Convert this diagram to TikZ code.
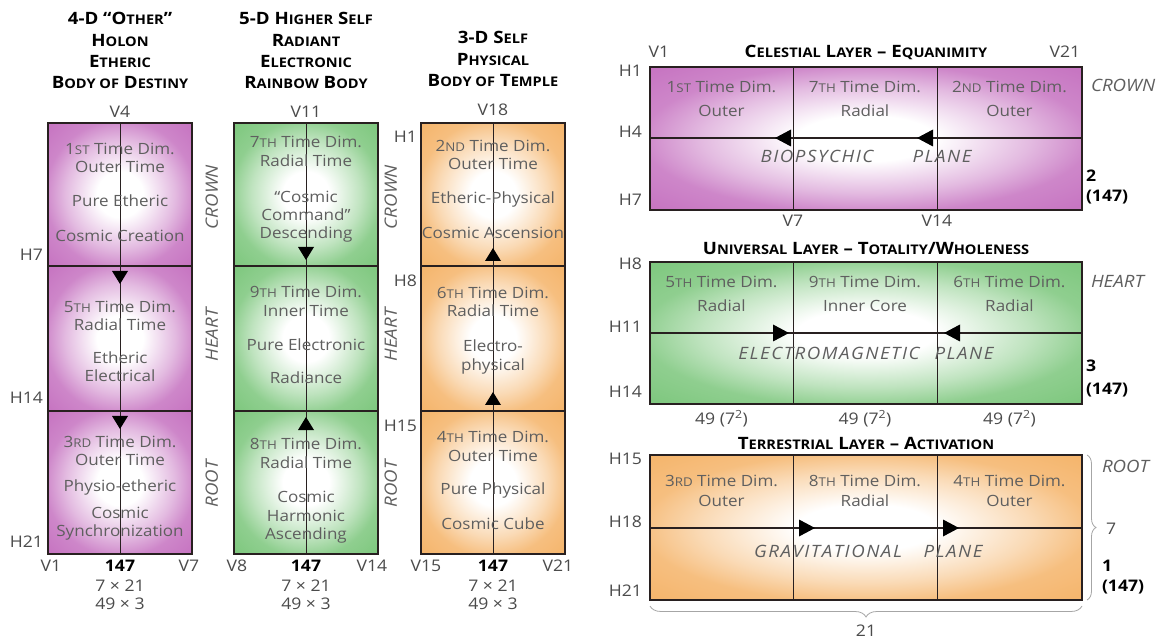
\documentclass[tikz,border=0pt]{standalone}
\usepackage{fontspec}
\setmainfont{Open Sans}[FakeStretch=1.1]
\usetikzlibrary{decorations.pathreplacing}
\definecolor{purp}{RGB}{199,118,194}
\definecolor{grn}{RGB}{128,200,128}
\definecolor{org}{RGB}{245,182,110}
\definecolor{txtc}{RGB}{95,95,95}
\definecolor{lblc}{RGB}{75,75,75}
\definecolor{edgec}{RGB}{40,32,32}
\pgfdeclareradialshading{purpsh}{\pgfpoint{0bp}{0bp}}{color(0bp)=(white);color(8bp)=(white);color(19bp)=(purp!50);color(26bp)=(purp!88);color(34bp)=(purp);color(50bp)=(purp)}
\pgfdeclareradialshading{grnsh}{\pgfpoint{0bp}{0bp}}{color(0bp)=(white);color(8bp)=(white);color(19bp)=(grn!50);color(26bp)=(grn!88);color(34bp)=(grn);color(50bp)=(grn)}
\pgfdeclareradialshading{orgsh}{\pgfpoint{0bp}{0bp}}{color(0bp)=(white);color(8bp)=(white);color(19bp)=(org!50);color(26bp)=(org!88);color(34bp)=(org);color(50bp)=(org)}
\makeatletter
\newcommand\smc[1]{{\fontsize{\fpeval{0.78*\f@size}}{\f@baselineskip}\selectfont\MakeUppercase{#1}}}
\makeatother
\newcommand\tridn[2]{\fill[black] (#1-8,#2) -- (#1+8,#2) -- (#1,#2+13) -- cycle;}
\newcommand\triup[2]{\fill[black] (#1-8,#2+13) -- (#1+8,#2+13) -- (#1,#2) -- cycle;}
\newcommand\trilf[2]{\fill[black] (#1,#2) -- (#1+16,#2-8.5) -- (#1+16,#2+8.5) -- cycle;}
\newcommand\trirt[2]{\fill[black] (#1,#2) -- (#1-16,#2-8.5) -- (#1-16,#2+8.5) -- cycle;}
\begin{document}
\begin{tikzpicture}[x=1pt,y=-1pt,
  every node/.style={inner sep=0pt,outer sep=0pt},
  ct/.style={text=txtc,font=\fontsize{15.5}{18}\selectfont,text height=11.5pt,text depth=3pt},
  lab/.style={text=lblc,font=\fontsize{16}{18}\selectfont,text height=12pt,text depth=3pt},
  numl/.style={text=lblc,font=\fontsize{16}{18}\selectfont,text height=12pt,text depth=3pt},
  bnum/.style={text=black,font=\fontsize{16}{18}\selectfont\bfseries,text height=12pt,text depth=3pt},
  side/.style={text=txtc,font=\fontsize{17}{19}\selectfont\itshape,text height=12.5pt,text depth=3pt},
  plab/.style={text=txtc,font=\fontsize{17}{19}\selectfont\itshape\addfontfeatures{LetterSpace=9},text height=12.5pt,text depth=3pt},
  head/.style={text=black,font=\fontsize{17}{19}\selectfont\bfseries,text height=12.5pt,text depth=3pt},
  frame/.style={draw=edgec,line width=2.4pt},
  midline/.style={draw=edgec,line width=0.8pt},
  divider/.style={draw=edgec,line width=2pt},
  plane/.style={draw=edgec,line width=2.4pt},
  bracesty/.style={draw=gray!70,line width=0.8pt,decorate}]
\useasboundingbox[fill=white] (0,0) rectangle (1160,644);

% ---------- three columns ----------
\foreach \lx/\sh in {48/purpsh,234/grnsh,421/orgsh}{
  \shade[shading=\sh] (\lx,123) rectangle ++(144,143);
  \shade[shading=\sh] (\lx,266) rectangle ++(144,145);
  \shade[shading=\sh] (\lx,411) rectangle ++(144,143);
  \draw[midline] (\lx+72,123) -- (\lx+72,554);
  \draw[divider] (\lx,266) -- ++(144,0) (\lx,411) -- ++(144,0);
  \draw[frame] (\lx,123) rectangle ++(144,431);
}
\tridn{120}{271}\tridn{120}{416}
\tridn{306}{247}\triup{306}{417}
\triup{493}{248}\triup{493}{392}

% headers
\node[head] (h1a) at (120,20) {4-D “O\smc{ther}”};
\node[head] (h1b) at (120,42) {H\smc{olon}};
\node[head] (h1c) at (120,63) {E\smc{theric}};
\node[head] (h1d) at (120,84) {B\smc{ody of} D\smc{estiny}};
\node[head] (h2a) at (306,20) {5-D H\smc{igher} S\smc{elf}};
\node[head] (h2b) at (306,42) {R\smc{adiant}};
\node[head] (h2c) at (306,63) {E\smc{lectronic}};
\node[head] (h2d) at (306,84) {R\smc{ainbow} B\smc{ody}};
\node[head] (h3a) at (493,39) {3-D S\smc{elf}};
\node[head] (h3b) at (493,61) {P\smc{hysical}};
\node[head] (h3c) at (493,82) {B\smc{ody of} T\smc{emple}};

\node[lab] (v4) at (120,113) {V4};
\node[lab] (v11) at (306,113) {V11};
\node[lab] (v18) at (493,111) {V18};

% column 1 text
\node[ct] (a1) at (120,150) {1\smc{st} Time Dim.};
\node[ct] (a2) at (120,168) {Outer Time};
\node[ct] (a3) at (120,202) {Pure Etheric};
\node[ct] (a4) at (120,237) {Cosmic Creation};
\node[ct] (a5) at (120,308) {5\smc{th} Time Dim.};
\node[ct] (a6) at (120,326) {Radial Time};
\node[ct] (a7) at (120,359) {Etheric};
\node[ct] (a8) at (120,377) {Electrical};
\node[ct] (a9) at (120,443) {3\smc{rd} Time Dim.};
\node[ct] (a10) at (120,461) {Outer Time};
\node[ct] (a11) at (120,487) {Physio-etheric};
\node[ct] (a12) at (120,514) {Cosmic};
\node[ct] (a13) at (120,532) {Synchronization};
% column 2 text
\node[ct] (b1) at (306,143) {7\smc{th} Time Dim.};
\node[ct] (b2) at (306,162) {Radial Time};
\node[ct] (b3) at (306,198) {“Cosmic};
\node[ct] (b4) at (306,216) {Command”};
\node[ct] (b5) at (306,234) {Descending};
\node[ct] (b6) at (306,293) {9\smc{th} Time Dim.};
\node[ct] (b7) at (306,312) {Inner Time};
\node[ct] (b8) at (306,346) {Pure Electronic};
\node[ct] (b9) at (306,379) {Radiance};
\node[ct] (b10) at (306,445) {8\smc{th} Time Dim.};
\node[ct] (b11) at (306,464) {Radial Time};
\node[ct] (b12) at (306,498) {Cosmic};
\node[ct] (b13) at (306,517) {Harmonic};
\node[ct] (b14) at (306,535) {Ascending};
% column 3 text
\node[ct] (c1) at (493,147) {2\smc{nd} Time Dim.};
\node[ct] (c2) at (493,165) {Outer Time};
\node[ct] (c3) at (493,199) {Etheric-Physical};
\node[ct] (c4) at (493,234) {Cosmic Ascension};
\node[ct] (c5) at (493,294) {6\smc{th} Time Dim.};
\node[ct] (c6) at (493,312) {Radial Time};
\node[ct] (c7) at (493,347) {Electro-};
\node[ct] (c8) at (493,366) {physical};
\node[ct] (c9) at (493,438) {4\smc{th} Time Dim.};
\node[ct] (c10) at (493,457) {Outer Time};
\node[ct] (c11) at (493,490) {Pure Physical};
\node[ct] (c12) at (493,525) {Cosmic Cube};

% H labels
\node[lab,anchor=east] (lh7) at (43,256) {H7};
\node[lab,anchor=east] (lh14) at (43,399) {H14};
\node[lab,anchor=east] (lh21) at (43,543) {H21};
\node[lab,anchor=east] (lh1) at (417,138) {H1};
\node[lab,anchor=east] (lh8) at (417,282) {H8};
\node[lab,anchor=east] (lh15) at (417,427) {H15};

% side labels
\node[side,rotate=90] (s1) at (213,197) {CROWN};
\node[side,rotate=90] (s2) at (213,335) {HEART};
\node[side,rotate=90] (s3) at (213,484) {ROOT};
\node[side,rotate=90] (s4) at (392,197) {CROWN};
\node[side,rotate=90] (s5) at (392,335) {HEART};
\node[side,rotate=90] (s6) at (392,484) {ROOT};

% bottom labels
\foreach \cx/\l/\r/\lxx/\rxx/\nm in {120/V1/V7/51/189/p,306/V8/V14/237/372/q,493/V15/V21/426/558/r}{
  \node[lab] (\nm l) at (\lxx,567) {\l};
  \node[lab] (\nm r) at (\rxx,567) {\r};
  \node[bnum] (\nm n) at (\cx,567) {147};
  \node[numl] (\nm m) at (\cx,587) {7 × 21};
  \node[numl] (\nm k) at (\cx,605) {49 × 3};
}

% ---------- right panel ----------
\foreach \ty/\by/\py/\sh in {67/210/138/purpsh,262/404/333/grnsh,455/600/528/orgsh}{
  \shade[shading=\sh] (650,\ty) rectangle (1082,\by);
  \draw[midline] (793,\ty) -- (793,\by) (937,\ty) -- (937,\by);
  \draw[plane] (650,\py) -- (1082,\py);
  \draw[frame] (650,\ty) rectangle (1082,\by);
}
\trilf{775}{138}\trilf{917}{138}
\trirt{789}{333}\trilf{944}{333}
\trirt{815}{528}\trirt{959}{528}

% celestial
\node[head] (t1) at (866,53) {C\smc{elestial} L\smc{ayer} – E\smc{quanimity}};
\node[lab] (rv1) at (659,53) {V1};
\node[lab] (rv21) at (1065,53) {V21};
\node[lab,anchor=east] (rh1) at (642,72) {H1};
\node[lab,anchor=east] (rh4) at (642,133) {H4};
\node[lab,anchor=east] (rh7) at (642,201) {H7};
\node[side,anchor=west] (rcr) at (1091,87) {CROWN};
\node[bnum,anchor=west] (r2) at (1086,177) {2};
\node[bnum,anchor=west] (r2n) at (1086,197) {(147)};
\node[lab] (rv7) at (793,222) {V7};
\node[lab] (rv14) at (937,222) {V14};
\node[ct] (d1) at (721.5,88) {1\smc{st} Time Dim.};
\node[ct] (d2) at (721.5,112) {Outer};
\node[ct] (d3) at (865,88) {7\smc{th} Time Dim.};
\node[ct] (d4) at (865,112) {Radial};
\node[ct] (d5) at (1009.5,88) {2\smc{nd} Time Dim.};
\node[ct] (d6) at (1009.5,112) {Outer};
\node[plab] (pl1a) at (817,158) {BIOPSYCHIC};
\node[plab] (pl1b) at (942,158) {PLANE};

% universal
\node[head] (t2) at (866,250) {U\smc{niversal} L\smc{ayer} – T\smc{otality}/W\smc{holeness}};
\node[lab,anchor=east] (rh8) at (642,265) {H8};
\node[lab,anchor=east] (rh11) at (642,328) {H11};
\node[lab,anchor=east] (rh14) at (642,393) {H14};
\node[side,anchor=west] (rhe) at (1091,283) {HEART};
\node[bnum,anchor=west] (r3) at (1086,367) {3};
\node[bnum,anchor=west] (r3n) at (1086,390) {(147)};
\node[ct] (e1) at (721.5,283) {5\smc{th} Time Dim.};
\node[ct] (e2) at (721.5,307) {Radial};
\node[ct] (e3) at (865,283) {9\smc{th} Time Dim.};
\node[ct] (e4) at (865,307) {Inner Core};
\node[ct] (e5) at (1009.5,283) {6\smc{th} Time Dim.};
\node[ct] (e6) at (1009.5,307) {Radial};
\node[plab] (pl2a) at (829,355) {ELECTROMAGNETIC};
\node[plab] (pl2b) at (964,355) {PLANE};
\node[numl] (f1) at (721.5,420) {49 (7\textsuperscript{2})};
\node[numl] (f2) at (865,420) {49 (7\textsuperscript{2})};
\node[numl] (f3) at (1009.5,420) {49 (7\textsuperscript{2})};

% terrestrial
\node[head] (t3) at (866,445) {T\smc{errestrial} L\smc{ayer} – A\smc{ctivation}};
\node[lab,anchor=east] (rh15) at (642,460) {H15};
\node[lab,anchor=east] (rh18) at (642,523) {H18};
\node[lab,anchor=east] (rh21) at (642,592) {H21};
\node[ct] (g1) at (721.5,482) {3\smc{rd} Time Dim.};
\node[ct] (g2) at (721.5,502) {Outer};
\node[ct] (g3) at (865,482) {8\smc{th} Time Dim.};
\node[ct] (g4) at (865,502) {Radial};
\node[ct] (g5) at (1009.5,482) {4\smc{th} Time Dim.};
\node[ct] (g6) at (1009.5,502) {Outer};
\node[plab] (pl3a) at (828,553) {GRAVITATIONAL};
\node[plab] (pl3b) at (953,553) {PLANE};
\coordinate (brt) at (1087,455);
\coordinate (brb) at (1087,600);
\draw[bracesty,decoration={brace,amplitude=9pt}] (brt) -- (brb);
\node[side,anchor=west] (rro) at (1102,468) {ROOT};
\node[lab,anchor=west] (r7) at (1106,530) {7};
\node[bnum,anchor=west] (r1) at (1102,567) {1};
\node[bnum,anchor=west] (r1n) at (1102,587) {(147)};
\coordinate (bbr) at (1082,606);
\coordinate (bbl) at (650,606);
\draw[bracesty,decoration={brace,amplitude=11pt}] (bbr) -- (bbl);
\node[lab] (r21) at (866,632) {21};
\end{tikzpicture}
\end{document}
